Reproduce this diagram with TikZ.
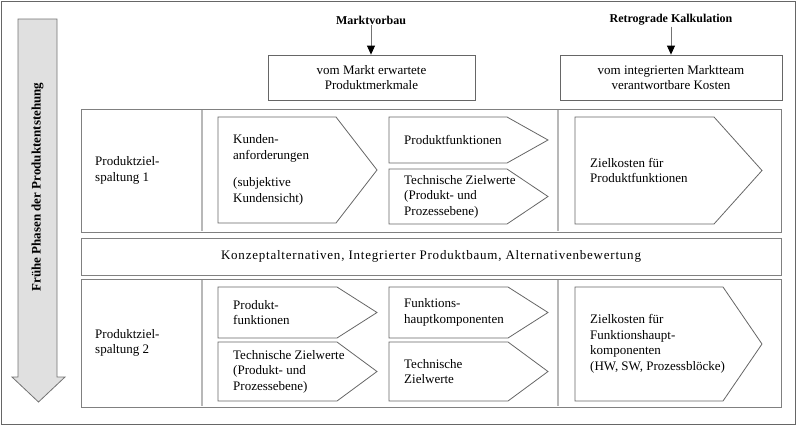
\documentclass[tikz,border=0pt]{standalone}
\usepackage{fontspec}
\setmainfont{Liberation Serif}
\usetikzlibrary{arrows.meta}
\newcommand\pentbox[7]{%
  \draw[pent] (#2,#3) -- (#4,#3) -- (#6,{(#3+#5)/2}) -- (#4,#5) -- (#2,#5) -- cycle;
  \node[txt] (#1) at ({#2+15},{(#3+#5)/2}) {#7};}
\begin{document}
\begin{tikzpicture}[x=1pt,y=-1pt,
  frame/.style={draw=black!60, line width=0.9pt},
  rowbox/.style={draw=black!50, line width=1pt},
  divider/.style={draw=black!28, line width=1.6pt},
  pent/.style={draw=black!60, line width=0.8pt},
  txt/.style={font=\fontsize{13}{15.5}\selectfont, align=left, inner sep=0pt, anchor=west},
  hdr/.style={font=\fontsize{12}{14}\selectfont\bfseries, inner sep=1pt},
  topbox/.style={draw=black!60, line width=0.8pt, minimum width=207pt, minimum height=45pt,
    align=center, inner sep=0pt, font=\fontsize{13}{15.5}\selectfont},
  feed/.style={draw=black!55, line width=0.8pt, -{Triangle[length=9pt,width=8pt,color=black]}},
  bigarrow/.style={draw=black!55, fill=black!12, line width=0.8pt}]
\useasboundingbox (0,0) rectangle (796,426);
% outer frame
\draw[frame] (1,1) rectangle (795,424.5);
% big left arrow
\draw[bigarrow] (18,19) -- (57,19) -- (57,377) -- (65,377) -- (38.5,402) -- (12,377) -- (18,377) -- cycle;
\node[hdr, font=\fontsize{13}{15}\selectfont\bfseries, rotate=90] (phase) at (37.5,187) {Frühe Phasen der Produktentstehung};
% headers
\node[hdr] (mv) at (371,20) {Marktvorbau};
\node[topbox] (mm) at (371.5,77.5) {vom Markt erwartete\\Produktmerkmale};
\draw[feed] (mv.south) -- (mv.south |- mm.north);
\node[hdr] (rk) at (671,20) {Retrograde Kalkulation};
\node[topbox, minimum width=222pt] (vk) at (671,77.5) {vom integrierten Marktteam\\verantwortbare Kosten};
\draw[feed] (rk.south) -- (rk.south |- vk.north);
% rows
\draw[rowbox] (81,109) rectangle (781,232);
\draw[rowbox] (81,238) rectangle (781,275);
\draw[rowbox] (81,279) rectangle (781,407);
\draw[divider] (202,110) -- (202,231);
\draw[divider] (558,110) -- (558,231);
\draw[divider] (202,280) -- (202,406);
\draw[divider] (558,280) -- (558,406);
% row 1
\node[txt] (r1) at (95,170.5) {Produktziel-\\spaltung 1};
\pentbox{kunden}{218}{117}{336}{223}{377}{Kunden-\\anforderungen\\[12pt](subjektive\\Kundensicht)}
\pentbox{pf1}{389}{117}{507}{163}{548}{Produktfunktionen}
\pentbox{tz1}{389}{169}{507}{224}{548}{Technische Zielwerte\\(Produkt- und\\Prozessebene)}
\pentbox{zk1}{575}{117}{714}{224}{762}{Zielkosten für\\Produktfunktionen}
% middle row
\node[font=\fontsize{13}{15.5}\selectfont\addfontfeatures{LetterSpace=6}, inner sep=0pt] (konz) at (431,256.5) {Konzeptalternativen, Integrierter Produktbaum, Alternativenbewertung};
% row 2
\node[txt] (r2) at (95,343) {Produktziel-\\spaltung 2};
\pentbox{pf2}{218}{287}{337}{338}{377}{Produkt-\\funktionen}
\pentbox{tz2}{218}{342}{337}{401}{377}{Technische Zielwerte\\(Produkt- und\\Prozessebene)}
\pentbox{fh2}{389}{287}{508}{338}{548}{Funktions-\\hauptkomponenten}
\pentbox{tz3}{389}{342}{508}{401}{548}{Technische\\Zielwerte}
\pentbox{zk2}{575}{287}{723}{401}{762}{Zielkosten für\\Funktionshaupt-\\komponenten\\(HW, SW, Prozessblöcke)}
\end{tikzpicture}
\end{document}
